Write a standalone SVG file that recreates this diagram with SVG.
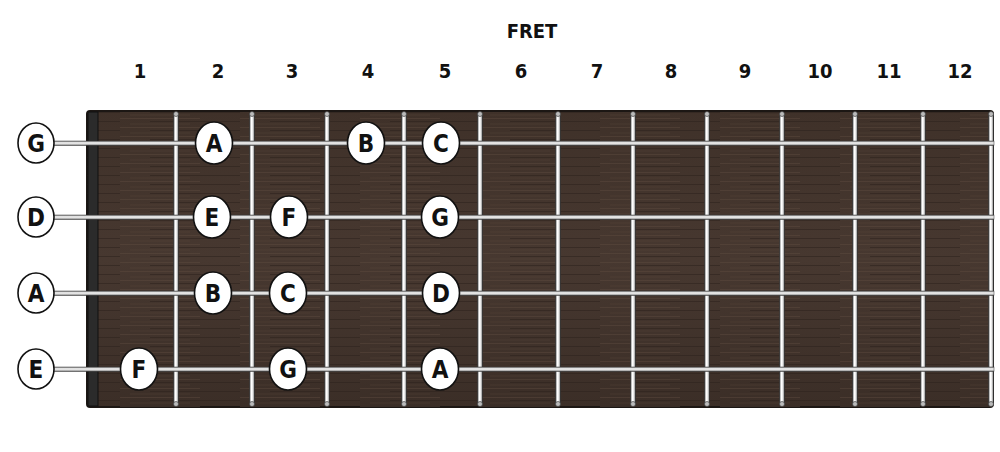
<svg xmlns="http://www.w3.org/2000/svg" width="1000" height="452" viewBox="0 0 1000 452">
<defs>
<linearGradient id="wood" x1="0" y1="0" x2="0" y2="1">
<stop offset="0" stop-color="#3f3129"/><stop offset="0.5" stop-color="#473830"/><stop offset="1" stop-color="#3b2e27"/>
</linearGradient>
<pattern id="grain" width="120" height="9" patternUnits="userSpaceOnUse">
<rect width="120" height="9" fill="none"/>
<line x1="0" y1="1.5" x2="80" y2="1.5" stroke="#5e4b3f" stroke-width="0.7" opacity="0.6"/>
<line x1="30" y1="4.5" x2="120" y2="4.5" stroke="#2c221c" stroke-width="0.8" opacity="0.7"/>
<line x1="10" y1="7" x2="70" y2="7" stroke="#5a473a" stroke-width="0.6" opacity="0.5"/>
</pattern>
<linearGradient id="fretG" x1="0" y1="0" x2="1" y2="0">
<stop offset="0" stop-color="#777"/><stop offset="0.4" stop-color="#ffffff"/><stop offset="0.7" stop-color="#e2e2e2"/><stop offset="1" stop-color="#5a5a5a"/>
</linearGradient>
<linearGradient id="strG" x1="0" y1="0" x2="0" y2="1">
<stop offset="0" stop-color="#7a7a7a"/><stop offset="0.4" stop-color="#f6f6f6"/><stop offset="0.7" stop-color="#d2d2d2"/><stop offset="1" stop-color="#555"/>
</linearGradient>
<style>
.t{font-family:"DejaVu Sans Condensed","Liberation Sans",sans-serif;font-weight:bold;fill:#111;text-anchor:middle}
.num{font-size:20px}
.note{font-size:24px}
.fret{fill:url(#fretG);stroke:#2a2a2a;stroke-width:0.6}
.knob{fill:#bbb;stroke:#333;stroke-width:0.6}
.str{fill:url(#strG);stroke:#3a3a3a;stroke-width:0.5}
.dot{fill:#fff;stroke:#111;stroke-width:1.6}
</style>
</defs>
<rect width="1000" height="452" fill="#ffffff"/>
<g id="header">
<text class="t num" x="532" y="38">FRET</text>
<text class="t num" x="140" y="78">1</text>
<text class="t num" x="218" y="78">2</text>
<text class="t num" x="292" y="78">3</text>
<text class="t num" x="368" y="78">4</text>
<text class="t num" x="445" y="78">5</text>
<text class="t num" x="521" y="78">6</text>
<text class="t num" x="597" y="78">7</text>
<text class="t num" x="671" y="78">8</text>
<text class="t num" x="745" y="78">9</text>
<text class="t num" x="820" y="78">10</text>
<text class="t num" x="889" y="78">11</text>
<text class="t num" x="960" y="78">12</text>
</g>
<g id="fretboard">
<rect x="87" y="111" width="906" height="296" rx="3" fill="url(#wood)" stroke="#1c1714" stroke-width="2"/>
<rect x="87" y="111" width="906" height="296" rx="3" fill="url(#grain)"/>
<rect x="88" y="112" width="10" height="294" fill="#2b2b2b" stroke="#111" stroke-width="1"/>
</g>
<g id="frets">
<rect class="fret" x="173.5" y="113" width="5" height="292"/>
<rect class="fret" x="249.5" y="113" width="5" height="292"/>
<rect class="fret" x="324.5" y="113" width="5" height="292"/>
<rect class="fret" x="401.5" y="113" width="5" height="292"/>
<rect class="fret" x="477.5" y="113" width="5" height="292"/>
<rect class="fret" x="555.5" y="113" width="5" height="292"/>
<rect class="fret" x="630.5" y="113" width="5" height="292"/>
<rect class="fret" x="704.5" y="113" width="5" height="292"/>
<rect class="fret" x="779.5" y="113" width="5" height="292"/>
<rect class="fret" x="852.5" y="113" width="5" height="292"/>
<rect class="fret" x="920.5" y="113" width="5" height="292"/>
<rect class="fret" x="988.5" y="113" width="5" height="292"/>
<g class="knob">
<circle cx="176" cy="114" r="2.5"/><circle cx="176" cy="404" r="2.5"/>
<circle cx="252" cy="114" r="2.5"/><circle cx="252" cy="404" r="2.5"/>
<circle cx="327" cy="114" r="2.5"/><circle cx="327" cy="404" r="2.5"/>
<circle cx="404" cy="114" r="2.5"/><circle cx="404" cy="404" r="2.5"/>
<circle cx="480" cy="114" r="2.5"/><circle cx="480" cy="404" r="2.5"/>
<circle cx="558" cy="114" r="2.5"/><circle cx="558" cy="404" r="2.5"/>
<circle cx="633" cy="114" r="2.5"/><circle cx="633" cy="404" r="2.5"/>
<circle cx="707" cy="114" r="2.5"/><circle cx="707" cy="404" r="2.5"/>
<circle cx="782" cy="114" r="2.5"/><circle cx="782" cy="404" r="2.5"/>
<circle cx="855" cy="114" r="2.5"/><circle cx="855" cy="404" r="2.5"/>
<circle cx="923" cy="114" r="2.5"/><circle cx="923" cy="404" r="2.5"/>
<circle cx="991" cy="114" r="2.5"/><circle cx="991" cy="404" r="2.5"/>
</g>
</g>
<g id="strings">
<rect class="str" x="50" y="141" width="944" height="4.5"/>
<rect class="str" x="50" y="215" width="944" height="4.5"/>
<rect class="str" x="50" y="291" width="944" height="4.5"/>
<rect class="str" x="50" y="367" width="944" height="4.5"/>
</g>
<g id="open-G"><ellipse class="dot" cx="36" cy="143" rx="18" ry="20"/><text class="t note" x="36" y="152">G</text></g>
<g id="open-D"><ellipse class="dot" cx="36" cy="217" rx="18" ry="20"/><text class="t note" x="36" y="226">D</text></g>
<g id="open-A"><ellipse class="dot" cx="36" cy="293" rx="18" ry="20"/><text class="t note" x="36" y="302">A</text></g>
<g id="open-E"><ellipse class="dot" cx="36" cy="369" rx="18" ry="20"/><text class="t note" x="36" y="378">E</text></g>
<g id="G-A"><ellipse class="dot" cx="214" cy="143" rx="18.5" ry="21"/><text class="t note" x="214" y="152">A</text></g>
<g id="G-B"><ellipse class="dot" cx="366" cy="143" rx="18.5" ry="21"/><text class="t note" x="366" y="152">B</text></g>
<g id="G-C"><ellipse class="dot" cx="441" cy="143" rx="18.5" ry="21"/><text class="t note" x="441" y="152">C</text></g>
<g id="D-E"><ellipse class="dot" cx="212" cy="217" rx="18.5" ry="21"/><text class="t note" x="212" y="226">E</text></g>
<g id="D-F"><ellipse class="dot" cx="289" cy="217" rx="18.5" ry="21"/><text class="t note" x="289" y="226">F</text></g>
<g id="D-G"><ellipse class="dot" cx="440" cy="217" rx="18.5" ry="21"/><text class="t note" x="440" y="226">G</text></g>
<g id="A-B"><ellipse class="dot" cx="213" cy="293" rx="18.5" ry="21"/><text class="t note" x="213" y="302">B</text></g>
<g id="A-C"><ellipse class="dot" cx="288" cy="293" rx="18.5" ry="21"/><text class="t note" x="288" y="302">C</text></g>
<g id="A-D"><ellipse class="dot" cx="441" cy="293" rx="18.5" ry="21"/><text class="t note" x="441" y="302">D</text></g>
<g id="E-F"><ellipse class="dot" cx="139" cy="369" rx="18.5" ry="21"/><text class="t note" x="139" y="378">F</text></g>
<g id="E-G"><ellipse class="dot" cx="288" cy="369" rx="18.5" ry="21"/><text class="t note" x="288" y="378">G</text></g>
<g id="E-A"><ellipse class="dot" cx="440" cy="369" rx="18.5" ry="21"/><text class="t note" x="440" y="378">A</text></g>
</svg>
